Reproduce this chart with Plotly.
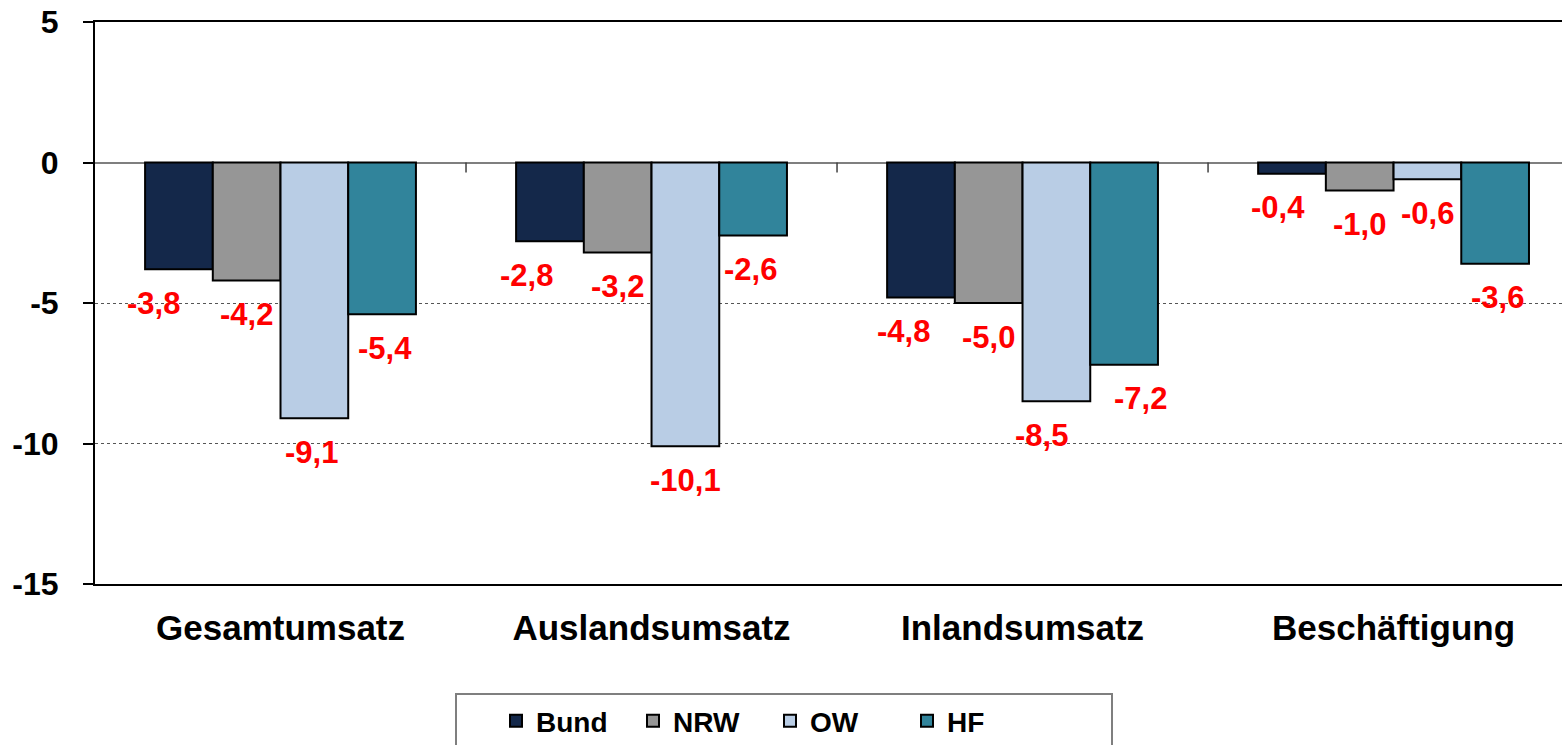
import plotly.graph_objects as go

categories = ["Gesamtumsatz", "Auslandsumsatz", "Inlandsumsatz", "Beschäftigung"]
series_names = ["Bund", "NRW", "OW", "HF"]
bund = [-3.8, -2.8, -4.8, -0.4]
nrw = [-4.2, -3.2, -5.0, -1.0]
ow = [-9.1, -10.1, -8.5, -0.6]
hf = [-5.4, -2.6, -7.2, -3.6]
series_values = [bund, nrw, ow, hf]
y_ticks = [5, 0, -5, -10, -15]

# styling
colors = ["#14284A", "#969696", "#B9CDE5", "#31849B"]
label_xshift = [  # per series, per category (px nudges of data labels)
    [-25, -23, -17, -14],
    [0, 0, 0, 0],
    [-3, 0, -15, 0],
    [3, -3, 16, 2],
]
FONT = "Liberation Sans, Arial, sans-serif"
BARGAP = 0.27

fig = go.Figure()
xs = list(range(len(categories)))
for k, (name, vals) in enumerate(zip(series_names, series_values)):
    fig.add_trace(go.Bar(
        x=xs, y=vals, name=name,
        marker=dict(color=colors[k], line=dict(color="black", width=2)),
        hoverinfo="skip",
    ))

n = len(series_names)
bw = (1 - BARGAP) / n
annotations = []
for k, vals in enumerate(series_values):
    for i, v in enumerate(vals):
        annotations.append(dict(
            x=i + (k - (n - 1) / 2) * bw, y=v, xref="x", yref="y",
            text=f"{v:.1f}".replace(".", ","), showarrow=False,
            yshift=-34, xshift=label_xshift[k][i],
            font=dict(family=FONT, size=31, color="#FF0000", weight="bold"),
        ))

shapes = []
for i in range(len(categories) - 1):
    shapes.append(dict(
        type="line", xref="x", yref="y", x0=i + 0.5, x1=i + 0.5,
        ysizemode="pixel", yanchor=0, y0=0, y1=-10,
        line=dict(color="#404040", width=1.5), layer="above",
    ))
# legend frame
shapes.append(dict(
    type="rect", xref="paper", yref="paper",
    x0=(456 - 95) / 1467, x1=(1112 - 95) / 1467,
    y0=(584 - 760) / 562, y1=(584 - 694) / 562,
    line=dict(color="#7F7F7F", width=2), fillcolor="rgba(0,0,0,0)", layer="above",
))

fig.update_layout(
    width=1562, height=745,
    margin=dict(l=95, r=0, t=22, b=161, autoexpand=False),
    paper_bgcolor="white", plot_bgcolor="white",
    barmode="group", bargap=BARGAP, bargroupgap=0,
    font=dict(family=FONT, color="black"),
    showlegend=True,
    legend=dict(
        orientation="h", xref="container", yref="container",
        x=496 / 1562, xanchor="left", y=1 - 696 / 745, yanchor="top",
        font=dict(family=FONT, size=28, color="black", weight="bold"),
        entrywidth=92, entrywidthmode="pixels",
        bgcolor="rgba(0,0,0,0)", borderwidth=0,
    ),
    annotations=annotations,
    shapes=shapes,
    xaxis=dict(
        range=[-0.5, 3.454], tickvals=xs, ticktext=categories,
        ticks="outside", ticklen=12, tickcolor="rgba(0,0,0,0)",
        tickfont=dict(family=FONT, size=35, color="black", weight="bold"),
        showline=True, linecolor="black", linewidth=2, mirror=True,
        showgrid=False, zeroline=False, fixedrange=True, automargin=False,
    ),
    yaxis=dict(
        range=[-15, 5], tickvals=y_ticks, ticktext=[str(t) for t in y_ticks],
        ticks="outside", ticklen=10, tickwidth=1.5, tickcolor="black",
        ticklabelstandoff=18,
        tickfont=dict(family=FONT, size=32, color="black", weight="bold"),
        showline=True, linecolor="black", linewidth=2,
        showgrid=True, gridcolor="#555555", griddash="dot", gridwidth=1,
        zeroline=True, zerolinecolor="#7F7F7F", zerolinewidth=1.5,
        fixedrange=True, automargin=False,
    ),
)

fig.write_html(
    "out.html",
    config={"displayModeBar": False},
    post_script="document.body.style.margin='0';document.body.style.overflow='hidden';",
)
